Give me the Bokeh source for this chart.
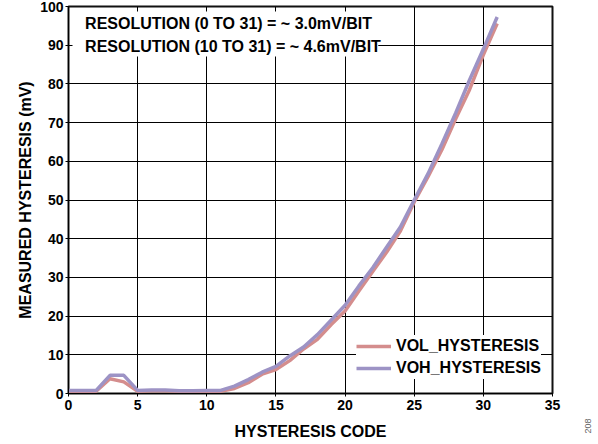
from bokeh.plotting import figure
from bokeh.models import Range1d, Label, BoxAnnotation, Legend, LegendItem, ColumnDataSource, Div
from bokeh.layouts import row
from bokeh.embed import file_html
from bokeh.resources import INLINE

codes = list(range(32))
vol_hyst = [0.6, 0.6, 0.6, 3.8, 3.0, 0.6, 0.7, 0.7, 0.6, 0.6, 0.6, 0.6, 1.3, 2.8, 5.0, 6.2,
            8.5, 11.5, 14.0, 17.8, 21.3, 26.5, 31.5, 36.5, 42.0, 49.5, 56.0, 63.0, 71.0, 78.5, 87.5, 95.6]
voh_hyst = [0.8, 0.8, 0.8, 4.7, 4.7, 0.8, 0.9, 0.9, 0.7, 0.7, 0.8, 0.8, 1.9, 3.6, 5.5, 7.0,
            9.7, 12.0, 15.2, 19.0, 22.8, 27.8, 32.5, 37.8, 43.0, 50.0, 56.8, 64.5, 72.5, 81.0, 89.0, 97.3]
x_ticks = [0, 5, 10, 15, 20, 25, 30, 35]
y_ticks = list(range(0, 101, 10))
note_lines = ["RESOLUTION (0 TO 31) = ~ 3.0mV/BIT", "RESOLUTION (10 TO 31) = ~ 4.6mV/BIT"]
series_names = ["VOL_HYSTERESIS", "VOH_HYSTERESIS"]
figure_id = "208"

FONT = "Liberation Sans"
H = 442

p = figure(width=562, height=H, output_backend="svg", toolbar_location=None,
           x_range=Range1d(0, 35), y_range=Range1d(0, 100),
           min_border_left=68, min_border_right=10, min_border_top=6, min_border_bottom=48)
p.background_fill_color = "white"
p.border_fill_color = "white"
p.outline_line_color = "#111111"
p.outline_line_width = 2

p.xaxis.ticker = x_ticks
p.yaxis.ticker = y_ticks
for ax in (p.xaxis, p.yaxis):
    ax.major_label_text_font = FONT
    ax.major_label_text_font_style = "bold"
    ax.major_label_text_font_size = "14px"
    ax.major_label_text_color = "black"
    ax.axis_label_text_font = FONT
    ax.axis_label_text_font_style = "bold"
    ax.axis_label_text_font_size = "16px"
    ax.axis_label_text_color = "black"
    ax.minor_tick_line_color = None
    ax.major_tick_in = 0
    ax.major_tick_out = 3
    ax.major_tick_line_color = "black"
    ax.axis_line_color = "black"
p.xaxis.major_label_standoff = 3
p.yaxis.major_label_standoff = 2
p.xaxis.axis_label = "HYSTERESIS CODE"
p.yaxis.axis_label = "MEASURED HYSTERESIS (mV)"
p.xaxis.axis_label_standoff = 10
p.yaxis.axis_label_standoff = 3

p.xgrid.grid_line_color = "black"
p.ygrid.grid_line_color = "black"
p.xgrid.grid_line_width = 1
p.ygrid.grid_line_width = 1

src = ColumnDataSource(dict(x=codes, vol=vol_hyst, voh=voh_hyst))
r1 = p.line("x", "vol", source=src, line_color="#d48d8d", line_width=3.5)
r2 = p.line("x", "voh", source=src, line_color="#9d93c5", line_width=3.5)

box = BoxAnnotation(left=0.29, right=22.4, top=98.7, bottom=87.1,
                    fill_color="white", fill_alpha=1.0, line_color=None)
p.add_layout(box)
for txt, yv in zip(note_lines, [95.5, 89.7]):
    p.add_layout(Label(x=1.2, y=yv, text=txt, text_font=FONT, text_font_style="bold",
                       text_font_size="16px", text_color="black", text_baseline="middle"))

legend = Legend(items=[LegendItem(label=series_names[0], renderers=[r1]),
                       LegendItem(label=series_names[1], renderers=[r2])],
                location=(288, 14), label_text_font=FONT, label_text_font_style="bold",
                label_text_font_size="16px", label_text_color="black",
                glyph_width=35, glyph_height=22, label_height=22, spacing=0,
                padding=5, margin=0, label_standoff=5,
                border_line_color=None, background_fill_color="white", background_fill_alpha=1.0)
p.add_layout(legend, "center")

side = Div(width=30, height=H,
           text=('<div style="position:absolute; left:11px; top:416px; width:20px; height:10px; '
                 'line-height:10px; text-align:center; transform:rotate(-90deg); '
                 "font-family:'Liberation Sans'; font-size:9px; color:#666666;\">"
                 + figure_id + '</div>'))

layout = row(p, side)
open("out.html", "w").write(file_html(layout, INLINE))
